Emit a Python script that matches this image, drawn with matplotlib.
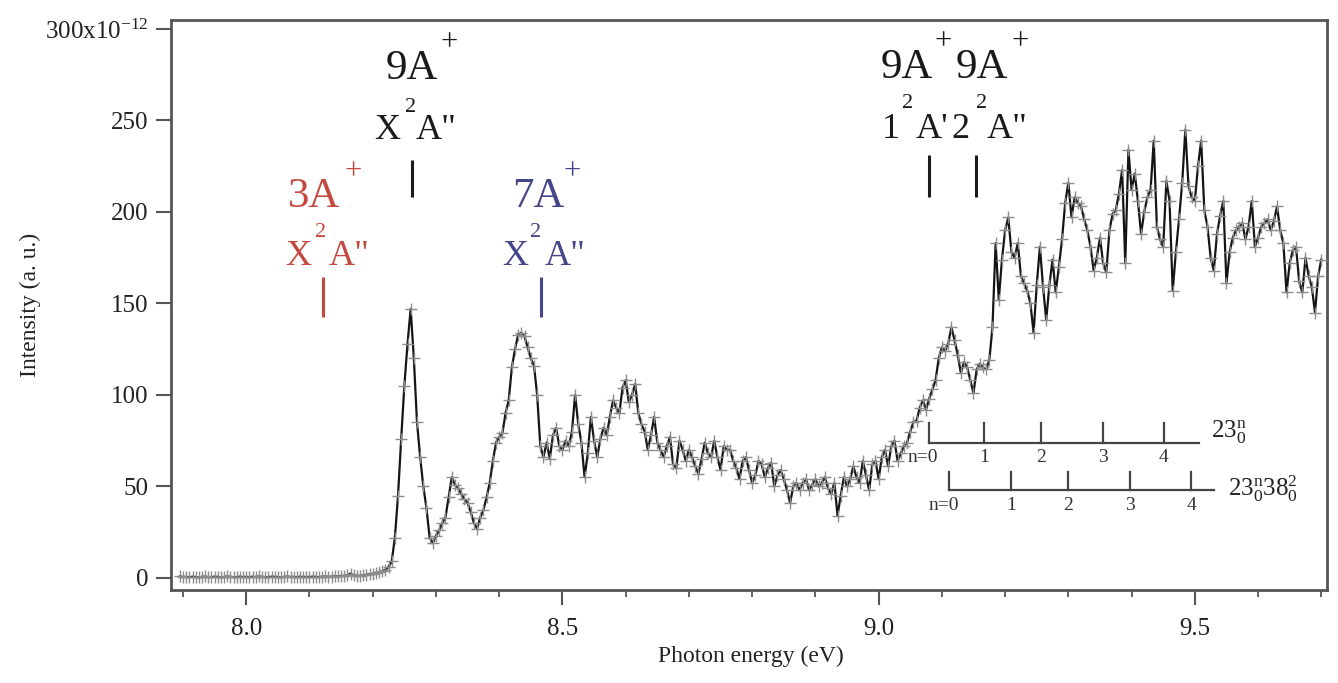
import numpy as np
import matplotlib
matplotlib.use("Agg")
import matplotlib.pyplot as plt
from matplotlib.ticker import FixedLocator, MultipleLocator

plt.rcParams['font.family'] = ['Liberation Serif', 'DejaVu Serif']
plt.rcParams['mathtext.fontset'] = 'custom'
plt.rcParams['mathtext.rm'] = 'Liberation Serif'
plt.rcParams['mathtext.it'] = 'Liberation Serif:italic'
plt.rcParams['mathtext.bf'] = 'Liberation Serif:bold'

# ---------------- data ----------------
energy_start = 7.895   # eV
energy_step = 0.005    # eV
intensity = [
    # 7.895 - 7.990
    0.8, 0.5, 0.6, 0.4, 0.7, 0.5, 0.3, 0.6, 0.8, 0.4, 0.5, 0.7, 0.6, 0.3, 0.5, 0.8, 0.6, 0.4, 0.5, 0.7,
    # 7.995 - 8.090
    0.5, 0.6, 0.4, 0.7, 0.5, 0.8, 0.6, 0.4, 0.5, 0.7, 0.6, 0.5, 0.3, 0.6, 0.8, 0.5, 0.6, 0.4, 0.7, 0.5,
    # 8.095 - 8.190
    0.6, 0.5, 0.7, 0.6, 0.4, 0.7, 0.8, 0.6, 0.7, 0.9, 0.8, 1.0, 1.2, 1.6, 2.4, 1.4, 1.0, 1.2, 1.4, 1.8,
    # 8.195 - 8.290
    2.0, 2.3, 2.8, 3.2, 3.8, 4.5, 6, 9, 22, 45, 76, 105, 128, 147, 120, 85, 66, 50, 38, 22,
    # 8.295 - 8.480
    19, 23, 26, 30, 33, 44, 55, 51, 49, 46, 43, 41, 36, 30, 27, 33, 37, 44, 52, 64,
    74, 77, 79, 90, 97, 115, 125, 133, 134, 132, 126, 120, 116, 100, 72, 66, 74, 65,
    # 8.485 - 8.800
    78, 82, 72, 70, 75, 72, 80, 100, 84, 74, 55, 68, 88, 75, 66, 76, 82, 78, 88, 97,
    93, 90, 104, 108, 96, 100, 106, 90, 84, 80, 70, 78, 88, 74, 70, 66, 72, 77, 62, 60,
    75, 70, 64, 70, 66, 61, 57, 65, 74, 68, 66, 75, 66, 59, 72, 70, 70, 64, 60, 54,
    64, 66, 59, 52,
    # 8.805 - 9.095
    56, 64, 62, 55, 60, 63, 50, 56, 59, 54, 48, 41, 50, 52, 48, 52, 54, 48, 51, 54,
    50, 52, 55, 49, 46, 52, 34, 45, 55, 50, 54, 61, 55, 52, 64, 56, 48, 62, 64, 54,
    66, 70, 61, 72, 75, 64, 68, 72, 74, 80, 85, 86, 93, 97, 92, 98, 103, 108, 120,
    # 9.100 - 9.410
    126, 124, 128, 137, 130, 122, 112, 118, 115, 108, 101, 114, 117, 115, 114, 119, 137, 183, 152, 174,
    190, 197, 178, 175, 183, 165, 161, 157, 150, 134, 160, 181, 159, 141, 160, 174, 156, 170, 185, 205,
    216, 197, 208, 205, 203, 196, 190, 181, 168, 175, 186, 172, 167, 190, 199, 201, 210, 223, 172, 234,
    212, 221, 206,
    # 9.415 - 9.700
    188, 200, 208, 212, 239, 192, 185, 181, 217, 206, 157, 178, 196, 216, 245, 214, 208, 206, 225, 239,
    201, 192, 175, 168, 188, 198, 206, 161, 178, 186, 190, 192, 194, 185, 192, 206, 181, 186, 192, 194,
    196, 190, 195, 203, 190, 183, 156, 172, 179, 181, 162, 156, 175, 165, 159, 145, 165, 174,
]
energy = np.round(energy_start + energy_step * np.arange(len(intensity)), 3)

x_ticks = [8.0, 8.5, 9.0, 9.5]
x_tick_labels = ['8.0', '8.5', '9.0', '9.5']
y_ticks = [0, 50, 100, 150, 200, 250, 300]
y_tick_labels = ['0', '50', '100', '150', '200', '250', r'300x10$^{-12}$']

# band assignments (line positions in eV)
assign_energy = [8.122, 8.262, 8.466, 9.080, 9.154]
assign_species = ['3A', '9A', '7A', '9A', '9A']
assign_state = [('X', 'A"'), ('X', 'A"'), ('X', 'A"'), ('1', "A'"), ('2', 'A"')]
assign_color = ['#c5483f', '#1a1a1a', '#45458a', '#1a1a1a', '#1a1a1a']

# vibrational progressions (n = 0..4)
prog_names = [r'$23^{\mathrm{n}}_{0}$', r'$23^{\mathrm{n}}_{0}38^{2}_{0}$']
prog_energy = [[9.080, 9.167, 9.257, 9.354, 9.451],
               [9.112, 9.210, 9.300, 9.397, 9.494]]
prog_n_labels = ['n=0', '1', '2', '3', '4']

# ---------------- figure ----------------
W, H = 1338, 683
fig = plt.figure(figsize=(W / 100, H / 100), dpi=100)
ax = fig.add_axes([171 / W, 1 - 590 / H, (1327 - 171) / W, (590 - 20) / H])

spine_c = '#555555'
for s in ax.spines.values():
    s.set_color(spine_c)
    s.set_linewidth(2.0)

ax.plot(energy, intensity, color='#151515', lw=1.6, marker='+', ms=8,
        mec='#8c8c8c', mew=1.0, zorder=3)

ax.set_xlim(7.881, 9.709)
ax.set_ylim(-6.6, 304.9)
ax.xaxis.set_major_locator(FixedLocator(x_ticks))
ax.set_xticklabels(x_tick_labels)
ax.xaxis.set_minor_locator(MultipleLocator(0.1))
ax.yaxis.set_major_locator(FixedLocator(y_ticks))
ax.set_yticklabels(y_tick_labels)
ax.tick_params(which='major', direction='out', length=11, width=1.5, color=spine_c,
               labelsize=18, labelcolor='#222222')
ax.tick_params(axis='x', which='major', pad=9)
ax.tick_params(axis='y', which='major', pad=5)
ax.tick_params(which='minor', direction='out', length=5, width=1.3, color=spine_c)
ax.tick_params(axis='y', which='minor', left=False)

fig.text(751 / W, 1 - 656 / H, 'Photon energy (eV)', ha='center', va='center',
         fontsize=17, color='#222222')
fig.text(30 / W, 1 - 305 / H, 'Intensity (a. u.)', ha='center', va='center',
         rotation=90, fontsize=17, color='#222222')

# ---------------- assignment labels ----------------
def ypix_to_I(yp):
    return (578 - yp) / 1.83

# layout: (line top px, line bottom px, offsets for species/plus/state1/sup2/state2)
layouts = [
    dict(top=277, bot=317, sp=(-9, 80), plus=(30, 105), s1=(-25, 20), sup=(-3, 44), s2=(26, 20)),
    dict(top=160, bot=197, sp=(0, 91), plus=(37, 117), s1=(-25, 29), sup=(-1, 52), s2=(24, 29)),
    dict(top=277, bot=317, sp=(-3, 80), plus=(31, 105), s1=(-26, 20), sup=(-5, 44), s2=(24, 20)),
    dict(top=155, bot=197, sp=(-22, 87), plus=(14, 113), s1=(-38, 25), sup=(-22, 51), s2=(3, 25)),
    dict(top=155, bot=197, sp=(6, 87), plus=(44, 113), s1=(-16, 25), sup=(6, 51), s2=(31, 25)),
]

for E, sp, st, c, lay in zip(assign_energy, assign_species, assign_state, assign_color, layouts):
    It, Ib = ypix_to_I(lay['top']), ypix_to_I(lay['bot'])
    ax.plot([E, E], [Ib, It], color=c, lw=2.2, solid_capstyle='butt', zorder=4)
    pieces = [(sp, lay['sp'], 31), ('+', lay['plus'], 22), (st[0], lay['s1'], 26),
              ('2', lay['sup'], 16), (st[1], lay['s2'], 26)]
    for txt, off, fs in pieces:
        ax.annotate(txt, xy=(E, It), xytext=off, textcoords='offset pixels',
                    ha='center', va='center', fontsize=fs, color=c,
                    annotation_clip=False, zorder=5)

# ---------------- progressions ----------------
prog_level = [ypix_to_I(443), ypix_to_I(490)]
prog_tick_top = [ypix_to_I(423), ypix_to_I(472)]
prog_label_y = [ypix_to_I(458), ypix_to_I(506)]
prog_line_end = [9.506, 9.530]
prog_name_pos = [(9.526, ypix_to_I(432)), (9.553, ypix_to_I(489))]

for k in range(2):
    Es = prog_energy[k]
    ax.plot([Es[0], prog_line_end[k]], [prog_level[k], prog_level[k]],
            color='#444444', lw=1.6, zorder=4)
    for j, e in enumerate(Es):
        ax.plot([e, e], [prog_level[k], prog_tick_top[k]], color='#444444', lw=1.6, zorder=4)
        lab = prog_n_labels[j]
        ax.annotate(lab, xy=(e, prog_label_y[k]), xytext=(-6 if j == 0 else 0, 0),
                    textcoords='offset pixels', ha='center', va='center',
                    fontsize=14, color='#333333', zorder=5)
    ax.text(prog_name_pos[k][0], prog_name_pos[k][1], prog_names[k], ha='left', va='center',
            fontsize=18, color='#222222', zorder=5)

fig.savefig('out.png', dpi=100)
